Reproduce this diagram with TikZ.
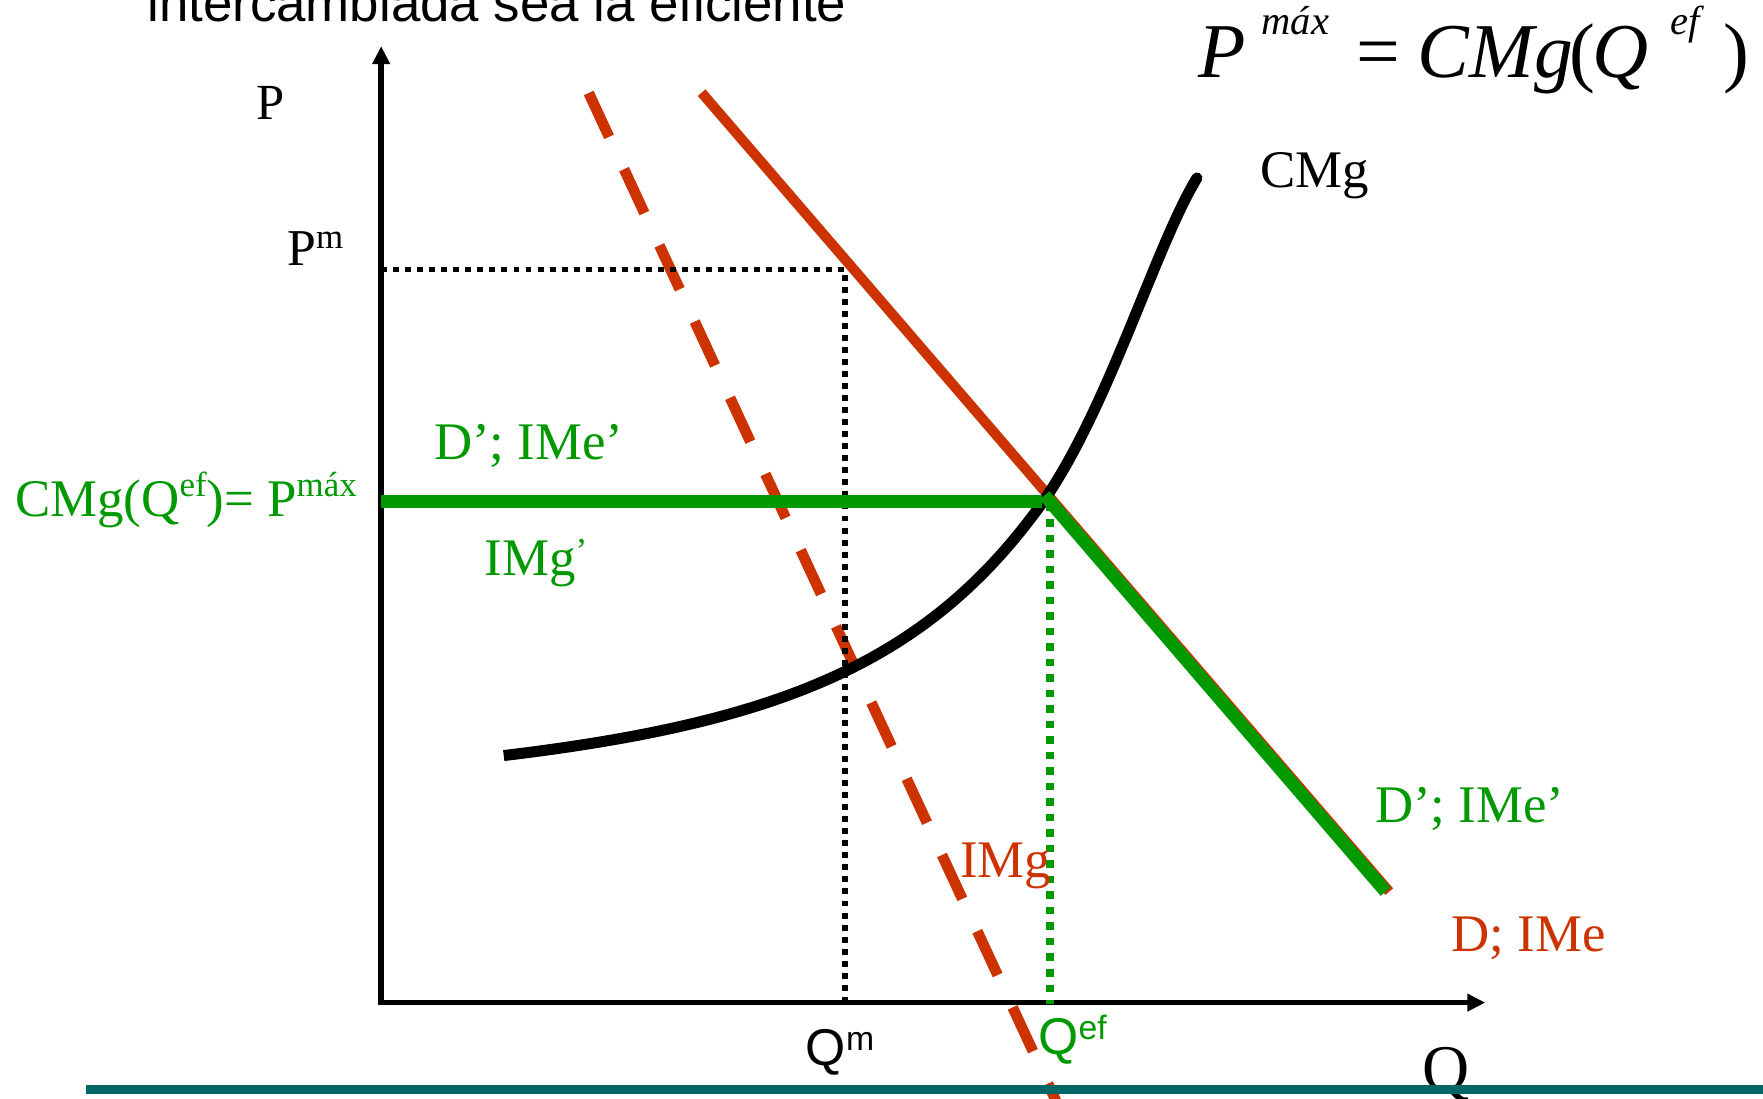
\documentclass[tikz,border=0pt]{standalone}
\usepackage{fontspec}
\setmainfont{Liberation Serif}
\newfontfamily\sansf{Liberation Sans}
\usetikzlibrary{arrows.meta,calc}
\definecolor{cred}{RGB}{204,51,0}
\definecolor{cgreen}{RGB}{0,153,0}
\definecolor{cteal}{RGB}{0,102,102}
\newcommand{\fs}[1]{\fontsize{#1}{#1}\selectfont}
\newcommand{\supr}[3]{\raisebox{#1pt}{\fs{#2}#3}}
\begin{document}
\begin{tikzpicture}[x=1pt,y=-1pt,
  lbl/.style={inner sep=0pt, outer sep=0pt, anchor=base west},
  axisline/.style={line width=5pt, {Triangle[length=16pt,width=15pt]}-{Triangle[length=16pt,width=15pt]}},
  demand/.style={cred, line width=9pt},
  imgline/.style={cred, line width=9.5pt, dash pattern=on 43pt off 31.7pt},
  blackdots/.style={black, line width=4.5pt, dash pattern=on 5.3pt off 5.4pt},
  greendots/.style={cgreen, line width=6.7pt, dash pattern=on 6.7pt off 7.1pt},
  greenline/.style={cgreen, line width=11.5pt},
  cmgline/.style={black, line width=9.8pt, -{Round Cap[]}}
]
\useasboundingbox (0,0) rectangle (1568,977);
\clip (0,0) rectangle (1568,977);

% key points
\coordinate (O) at (339,891.7);
\coordinate (Ytip) at (339,41);
\coordinate (Xtip) at (1321,891.7);
\coordinate (Dtop) at (624,82.4);
\coordinate (Dbot) at (1235.6,793);
\coordinate (E) at (931,439.1);
\coordinate (G1) at (929,440.6);
\coordinate (G2) at (1232.3,793);
\coordinate (Mtop) at (523.6,82.7);
\coordinate (Mbot) at (944.2,990);
\coordinate (PmL) at (339,239.7);
\coordinate (PmC) at (751.5,239.7);
\coordinate (QmB) at (751.5,891.7);
\coordinate (PxL) at (339,446);
\coordinate (PxR) at (926.5,446);
\coordinate (QeT) at (934,447.8);
\coordinate (QeB) at (934,893);
\coordinate (C0) at (448,672);
\coordinate (C1) at (932,440);
\coordinate (C2) at (1067,154);
\coordinate (TL) at (76.5,969);
\coordinate (TR) at (1575,969);

% demand and marginal revenue
\draw[demand] (Dtop) -- (Dbot);
\draw[imgline] (Mtop) -- (Mbot);

% marginal cost
\draw[cmgline] (C0) .. controls (698,642) and (829.4,587.6) .. (C1)
                    .. controls (987,357) and (1027,223) .. (C2);

% monopoly dotted guides
\draw[blackdots] (PmL) -- (PmC) -- (QmB);

% axes
\draw[axisline] (Ytip) -- (O) -- (Xtip);

% regulated demand
\draw[greenline] (PxL) -- (PxR);
\draw[greenline] (G1) -- (G2);
\draw[greendots] (QeT) -- (QeB);

% texts
\node[lbl] (title) at (131,19.3) {\sansf\fs{47}intercambiada sea la eficiente};

\node[lbl] (fP) at (1066,69) {\fs{69}\itshape P};
\node[lbl] (fmax) at (1122,31) {\fs{36}\itshape máx};
\node[lbl] (feq) at (1206,69) {\fs{69}=};
\node[lbl] (fCMg) at (1261,69) {\fs{69}\itshape CMg};
\node[lbl] (fpl) at (1396,69) {\fs{69}(};
\node[lbl] (fQ) at (1416,69) {\fs{69}\itshape Q};
\node[lbl] (fef) at (1486,31) {\fs{36}\itshape ef};
\node[lbl] (fpr) at (1533,69) {\fs{69})};

\node[lbl] (lP) at (228,106.5) {\fs{45}P};
\node[lbl] (lPm) at (255.5,236) {\fs{46}P\supr{15}{31}{m}};
\node[lbl] (lCMg) at (1121,167) {\fs{47}CMg};
\node[lbl, text=cgreen] (lDp1) at (386,409) {\fs{47}D’; IMe’};
\node[lbl, text=cgreen] (lPmax) at (13.5,459.5) {\fs{47}CMg(Q\supr{18}{31}{ef})= P\supr{18}{31}{máx}};
\node[lbl, text=cgreen] (lIMgp) at (431,511.4) {\fs{47}IMg\supr{11}{31}{’}};
\node[lbl, text=cred] (lIMg) at (854,780.3) {\fs{47}IMg};
\node[lbl, text=cgreen] (lDp2) at (1223,731.3) {\fs{47}D’; IMe’};
\node[lbl, text=cred] (lD) at (1291,846.4) {\fs{47}D; IMe};
\node[lbl] (lQm) at (716.7,948) {\sansf\fs{46}Q\supr{14}{30}{m}};
\node[lbl, text=cgreen] (lQef) at (923.6,937.7) {\sansf\fs{46}Q\supr{13}{30}{ef}};
\node[lbl] (lQ) at (1265,970) {\fs{58}Q};

% bottom rule
\draw[cteal, line width=8pt] (TL) -- (TR);
\end{tikzpicture}
\end{document}
